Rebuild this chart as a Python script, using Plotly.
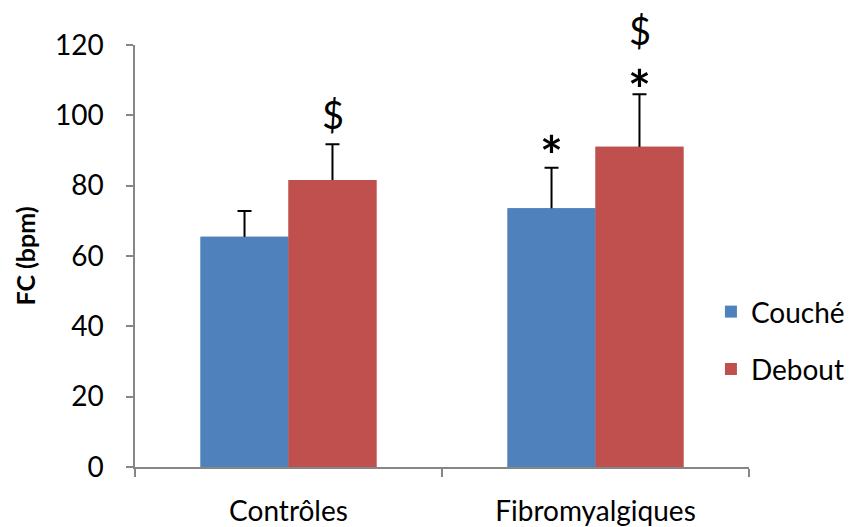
import plotly.graph_objects as go

categories = ["Contrôles", "Fibromyalgiques"]
couche_values = [65.5, 73.6]
couche_err = [7.3, 11.5]
debout_values = [81.6, 91.1]
debout_err = [10.2, 14.9]
y_ticks = [0, 20, 40, 60, 80, 100, 120]

FONT = "Lato"
BLUE = "#4F81BD"
RED = "#C0504D"
AXIS = "#868686"

fig = go.Figure()
series = [("Couché", couche_values, couche_err, BLUE, "a"),
          ("Debout", debout_values, debout_err, RED, "b")]
# main bars with error bars (the lower end of the error bar is hidden inside the bar)
for name, vals, err, col, grp in series:
    fig.add_trace(go.Bar(
        name=name, x=categories, y=vals, marker_color=col, marker_line_width=0,
        offsetgroup=grp, legendgroup=grp,
        error_y=dict(type="data", array=err, symmetric=False,
                     arrayminus=[0.8] * len(err), color="black", thickness=2, width=7),
    ))
# cover bars (same data) drawn on top so the bottom cap of the error bar is hidden
for name, vals, err, col, grp in series:
    fig.add_trace(go.Bar(
        name=name, x=categories, y=vals, marker_color=col, marker_line_width=0,
        offsetgroup=grp, legendgroup=grp, showlegend=False, hoverinfo="skip",
    ))

annotations = [
    dict(x=categories[0], y=debout_values[0] + debout_err[0], text="$", xshift=44, yshift=30, size=38),
    dict(x=categories[1], y=couche_values[1] + couche_err[1], text="<b>*</b>", xshift=-44, yshift=13, size=54),
    dict(x=categories[1], y=debout_values[1] + debout_err[1], text="<b>*</b>", xshift=44, yshift=6, size=54),
    dict(x=categories[1], y=debout_values[1] + debout_err[1], text="$", xshift=44, yshift=64, size=38),
]
for a in annotations:
    s = a.pop("size")
    a.update(xref="x", yref="y", showarrow=False, yanchor="middle",
             font=dict(family=FONT, size=s, color="black"))

fig.update_layout(
    width=854, height=527,
    margin=dict(l=135, r=105, t=45, b=60, autoexpand=False),
    paper_bgcolor="white", plot_bgcolor="white",
    barmode="group", bargap=0.427, bargroupgap=0,
    font=dict(family=FONT, size=28, color="black"),
    annotations=annotations,
    showlegend=True,
    legend=dict(x=0.938, y=0.3, xanchor="left", yanchor="middle",
                bgcolor="rgba(0,0,0,0)", font=dict(family=FONT, size=28),
                tracegroupgap=18, traceorder="grouped"),
    xaxis=dict(showline=True, linecolor=AXIS, linewidth=1.5, ticks="outside",
               tickson="boundaries", ticklen=8, tickcolor=AXIS, tickwidth=1.5,
               showgrid=False, automargin=False, ticklabelstandoff=19,
               tickfont=dict(family=FONT, size=28)),
    yaxis=dict(range=[0, 120], tickvals=y_ticks, showline=True, linecolor=AXIS,
               linewidth=1.5, ticks="outside", ticklen=7, tickcolor=AXIS, tickwidth=1.5,
               showgrid=False, zeroline=False, automargin=False, ticklabelstandoff=17,
               tickfont=dict(family=FONT, size=28),
               title=dict(text="<b>FC (bpm)</b>", font=dict(family=FONT, size=25), standoff=12)),
)

fig.write_html("out.html", config={"displayModeBar": False},
               post_script="document.body.style.margin='0';")
